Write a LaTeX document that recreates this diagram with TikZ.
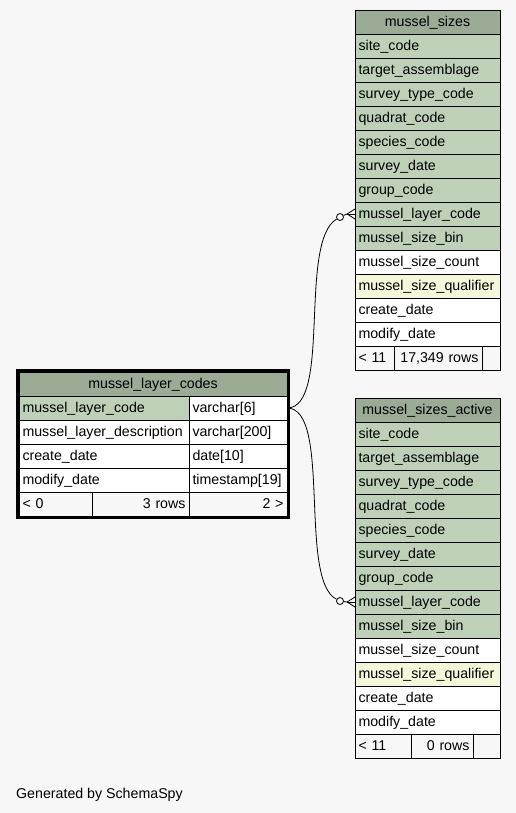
\documentclass[tikz,border=0pt]{standalone}
\usepackage{fontspec}
\setmainfont{Liberation Sans}
\usepackage{tikz}
\usetikzlibrary{positioning}

\definecolor{bgcol}{RGB}{247,247,247}
\definecolor{headcol}{RGB}{155,171,150}
\definecolor{keycol}{RGB}{190,209,184}
\definecolor{idxcol}{RGB}{244,247,218}

\begin{document}
\begin{tikzpicture}[
        x = 1pt, y = -1pt,
        cell/.style = {
            draw,
            fill = white,
            line width = 0.8pt,
            text width = #1,
            align = left,
            minimum height = 24pt,
            text height = 11.5pt,
            text depth = 2.5pt,
            inner xsep = 3.5pt,
            inner ysep = 0pt,
            outer sep = 0pt,
            font = \fontsize{14.2}{16}\selectfont
        },
        cell/.default = 138pt,
        key/.style = {cell = #1, fill = keycol},
        key/.default = 138pt,
        idx/.style = {cell = #1, fill = idxcol},
        idx/.default = 138pt,
        head/.style = {cell = #1, fill = headcol, align = center},
        head/.default = 138pt,
        foot/.style = {cell = #1, fill = bgcol},
        rfoot/.style = {cell = #1, fill = bgcol, align = right},
        odot/.style = {
            draw,
            circle,
            fill = bgcol,
            line width = 0.8pt,
            minimum size = 7pt,
            inner sep = 0pt
        }
        ]
%
        \fill[bgcol] (0,0) rectangle (516,813);
        \useasboundingbox (0,0) rectangle (516,813);
%
% mussel_sizes
        \node[head, anchor=north west] (ms) at (355,10) {mussel\_sizes};
        \node[key, below=0pt of ms] (ms1) {site\_code};
        \node[key, below=0pt of ms1] (ms2) {target\_assemblage};
        \node[key, below=0pt of ms2] (ms3) {survey\_type\_code};
        \node[key, below=0pt of ms3] (ms4) {quadrat\_code};
        \node[key, below=0pt of ms4] (ms5) {species\_code};
        \node[key, below=0pt of ms5] (ms6) {survey\_date};
        \node[key, below=0pt of ms6] (ms7) {group\_code};
        \node[key, below=0pt of ms7] (ms8) {mussel\_layer\_code};
        \node[key, below=0pt of ms8] (ms9) {mussel\_size\_bin};
        \node[cell, below=0pt of ms9] (ms10) {mussel\_size\_count};
        \node[idx, below=0pt of ms10] (ms11) {mussel\_size\_qualifier};
        \node[cell, below=0pt of ms11] (ms12) {create\_date};
        \node[cell, below=0pt of ms12] (ms13) {modify\_date};
%
        \node[foot=32pt, anchor=north west] (msf1) at (ms13.south west) {< 11};
        \node[rfoot=81pt, right=0pt of msf1] (msf2) {17,349 rows};
        \node[foot=11pt, right=0pt of msf2] (msf3) {};
%
% mussel_sizes_active
        \node[head, anchor=north west] (msa) at (355,398) {mussel\_sizes\_active};
        \node[key, below=0pt of msa] (msa1) {site\_code};
        \node[key, below=0pt of msa1] (msa2) {target\_assemblage};
        \node[key, below=0pt of msa2] (msa3) {survey\_type\_code};
        \node[key, below=0pt of msa3] (msa4) {quadrat\_code};
        \node[key, below=0pt of msa4] (msa5) {species\_code};
        \node[key, below=0pt of msa5] (msa6) {survey\_date};
        \node[key, below=0pt of msa6] (msa7) {group\_code};
        \node[key, below=0pt of msa7] (msa8) {mussel\_layer\_code};
        \node[key, below=0pt of msa8] (msa9) {mussel\_size\_bin};
        \node[cell, below=0pt of msa9] (msa10) {mussel\_size\_count};
        \node[idx, below=0pt of msa10] (msa11) {mussel\_size\_qualifier};
        \node[cell, below=0pt of msa11] (msa12) {create\_date};
        \node[cell, below=0pt of msa12] (msa13) {modify\_date};
%
        \node[foot=49pt, anchor=north west] (msaf1) at (msa13.south west) {< 11};
        \node[rfoot=55pt, right=0pt of msaf1] (msaf2) {0 rows};
        \node[foot=20pt, right=0pt of msaf2] (msaf3) {};
%
% mussel_layer_codes
        \node[head=261pt, anchor=north west] (mlc) at (19,372) {mussel\_layer\_codes};
        \node[key=163pt, anchor=north west] (mlc1) at (mlc.south west) {mussel\_layer\_code};
        \node[cell=91pt, right=0pt of mlc1] (mlc1t) {varchar[6]};
        \node[cell=163pt, below=0pt of mlc1] (mlc2) {mussel\_layer\_description};
        \node[cell=91pt, right=0pt of mlc2] (mlc2t) {varchar[200]};
        \node[cell=163pt, below=0pt of mlc2] (mlc3) {create\_date};
        \node[cell=91pt, right=0pt of mlc3] (mlc3t) {date[10]};
        \node[cell=163pt, below=0pt of mlc3] (mlc4) {modify\_date};
        \node[cell=91pt, right=0pt of mlc4] (mlc4t) {timestamp[19]};
%
        \node[foot=66pt, anchor=north west] (mlcf1) at (mlc4.south west) {< 0};
        \node[rfoot=90pt, right=0pt of mlcf1] (mlcf2) {3 rows};
        \node[rfoot=91pt, right=0pt of mlcf2] (mlcf3) {2 >};
%
        \draw[line width = 3pt] ([shift={(-1.5,-1.5)}]mlc.north west) rectangle ([shift={(1.5,1.5)}]mlcf3.south east);
%
% relations
        \node[odot] (o1) at (340,217) {};
        \node[odot] (o2) at (340,601) {};
        \coordinate (c1) at (347,214);
        \coordinate (c2) at (347,602);
%
        \draw[line width = 0.8pt] (mlc1t.east) .. controls (332,408) and (298,242) .. (o1);
        \draw[line width = 0.8pt] (mlc1t.east) .. controls (332,408) and (298,580) .. (o2);
%
        \draw[line width = 0.8pt] (o1) -- (c1);
        \draw[line width = 0.8pt] (c1) -- ([yshift=5pt]ms8.west);
        \draw[line width = 0.8pt] (c1) -- (ms8.west);
        \draw[line width = 0.8pt] (c1) -- ([yshift=-5pt]ms8.west);
%
        \draw[line width = 0.8pt] (o2) -- (c2);
        \draw[line width = 0.8pt] (c2) -- ([yshift=5pt]msa8.west);
        \draw[line width = 0.8pt] (c2) -- (msa8.west);
        \draw[line width = 0.8pt] (c2) -- ([yshift=-5pt]msa8.west);
%
        \node[anchor=base west, inner sep=0pt, font=\fontsize{14.2}{16}\selectfont] (gen) at (16,798) {Generated by SchemaSpy};
%
    \end{tikzpicture}
\end{document}
